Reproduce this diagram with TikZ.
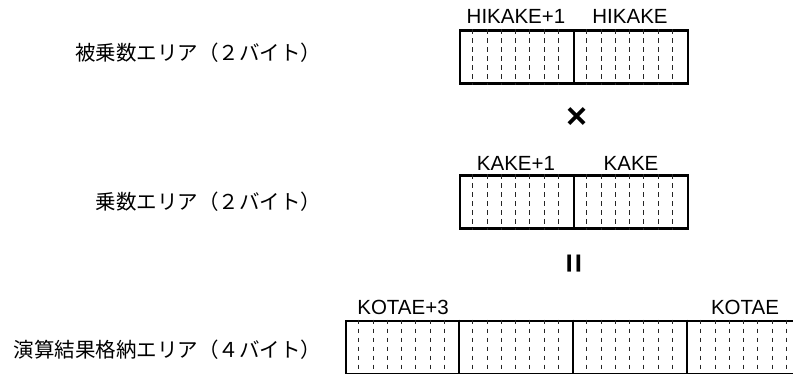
\documentclass[tikz,border=0pt]{standalone}
\usepackage{fontspec}
\setmainfont{Liberation Sans}
\newfontfamily\jpfont{Noto Sans CJK JP}
\usetikzlibrary{positioning}

\begin{document}
\begin{tikzpicture}[x=1pt,y=-1pt,
  area/.style={draw,line width=2.6pt,inner sep=0pt,minimum height=53pt},
  bitline/.style={black!85,line width=1pt,dash pattern=on 4.5pt off 4.5pt},
  byteline/.style={line width=2pt},
  addr/.style={font=\fontsize{20.5}{24}\selectfont},
  areaname/.style={anchor=east,font=\jpfont\fontsize{20.5}{24}\selectfont}]
\useasboundingbox (0,0) rectangle (793,374);

% multiplicand, 2 bytes
\node[areaname] (hikakeName) at (325,53) {被乗数エリア（２バイト）};
\node[area,minimum width=228pt] (hikake) at (574,57) {};
\foreach \b in {0,1}
  \foreach \i in {1,...,7}
    \draw[bitline] ([xshift=(\b*8+\i)*14.25pt]hikake.north west) -- ([xshift=(\b*8+\i)*14.25pt]hikake.south west);
\draw[byteline] (hikake.north) -- (hikake.south);
\node[addr] (hikakeHi) at (516,16) {HIKAKE+1};
\node[addr] (hikakeLo) at (630,16) {HIKAKE};

\node[font=\bfseries\fontsize{36}{36}\selectfont] (times) at (577,118) {×};

% multiplier, 2 bytes
\node[areaname] (kakeName) at (325,202) {乗数エリア（２バイト）};
\node[area,minimum width=228pt] (kake) at (574,202) {};
\foreach \b in {0,1}
  \foreach \i in {1,...,7}
    \draw[bitline] ([xshift=(\b*8+\i)*14.25pt]kake.north west) -- ([xshift=(\b*8+\i)*14.25pt]kake.south west);
\draw[byteline] (kake.north) -- (kake.south);
\node[addr] (kakeHi) at (516,163) {KAKE+1};
\node[addr] (kakeLo) at (631,163) {KAKE};

\node[font=\bfseries\fontsize{34}{34}\selectfont,rotate=90] (equals) at (577,264) {=};

% result, 4 bytes
\node[areaname] (kotaeName) at (325,350) {演算結果格納エリア（４バイト）};
\node[area,minimum width=456pt] (kotae) at (574,347.5) {};
\foreach \b in {0,...,3}
  \foreach \i in {1,...,7}
    \draw[bitline] ([xshift=(\b*8+\i)*14.25pt]kotae.north west) -- ([xshift=(\b*8+\i)*14.25pt]kotae.south west);
\foreach \b in {1,2,3}
  \draw[byteline] ([xshift=\b*114pt]kotae.north west) -- ([xshift=\b*114pt]kotae.south west);
\node[addr] (kotaeHi) at (403,307) {KOTAE+3};
\node[addr] (kotaeLo) at (745,307) {KOTAE};
\end{tikzpicture}
\end{document}
